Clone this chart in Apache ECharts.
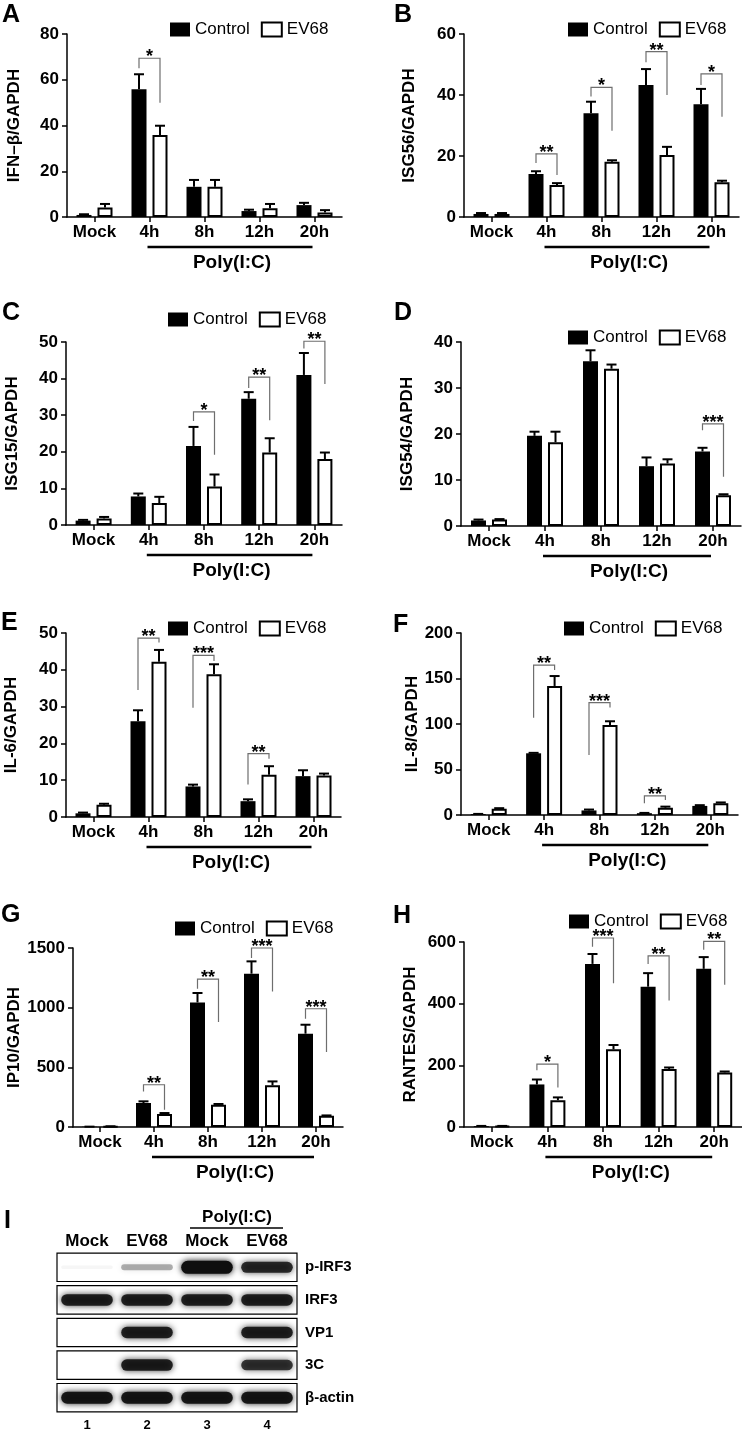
<!DOCTYPE html>
<html>
<head>
<meta charset="utf-8">
<script src="https://cdn.jsdelivr.net/npm/echarts@6/dist/echarts.min.js"></script>
<style>
html,body{margin:0;padding:0;background:#fff;}
#chart{width:742px;height:1432px;}
</style>
</head>
<body>
<div id="chart"></div>
<script>
// ---------------- DATA ----------------
const categories = ['Mock', '4h', '8h', '12h', '20h'];
const seriesNames = ['Control', 'EV68'];
const polyRange = [1, 4];
const polyLabel = 'Poly(I:C)';

// A  IFN-β
const ifnbCtrl = [0.9, 55.8, 13.2, 2.6, 5.2];
const ifnbCtrlErr = [1.2, 62.4, 16.2, 3.2, 6.2];
const ifnbEv = [4.2, 35.8, 13.2, 3.8, 2.0];
const ifnbEvErr = [5.7, 39.9, 16.2, 5.7, 3.0];
const ifnbSig = [[1, 69.4, 65, 50, '*']];

// B  ISG56
const isg56Ctrl = [1.0, 14.1, 34.0, 43.3, 37.0];
const isg56CtrlErr = [1.3, 15.0, 37.8, 48.5, 42.0];
const isg56Ev = [1.0, 10.5, 18.1, 20.3, 11.4];
const isg56EvErr = [1.3, 11.1, 18.6, 23.0, 11.9];
const isg56Sig = [[1, 20.7, 17.7, 13.8, '**'], [2, 42.5, 39.5, 28.3, '*'], [3, 54.2, 50.7, 40.0, '**'], [4, 46.9, 43.3, 32.9, '*']];

// C  ISG15
const isg15Ctrl = [1.2, 7.8, 21.6, 34.5, 41.0];
const isg15CtrlErr = [1.4, 8.6, 26.8, 36.3, 47.0];
const isg15Ev = [1.8, 6.0, 10.5, 19.8, 18.0];
const isg15EvErr = [2.2, 7.7, 13.8, 23.7, 19.8];
const isg15Sig = [[2, 30.9, 28.4, 19.2, '*'], [3, 40.4, 37.4, 28.6, '**'], [4, 50.2, 48.2, 38.5, '**']];

// D  ISG54
const isg54Ctrl = [1.2, 19.6, 35.8, 13.0, 16.2];
const isg54CtrlErr = [1.4, 20.5, 38.2, 14.9, 17.0];
const isg54Ev = [1.4, 18.2, 34.2, 13.6, 6.7];
const isg54EvErr = [1.5, 20.5, 35.1, 14.5, 6.9];
const isg54Sig = [[4, 22.2, 20.8, 10.7, '***']];

// E  IL-6
const il6Ctrl = [1.0, 26.0, 8.3, 4.3, 11.1];
const il6CtrlErr = [1.2, 29.0, 8.8, 4.8, 12.7];
const il6Ev = [3.3, 42.2, 38.8, 11.5, 11.3];
const il6EvErr = [3.6, 45.4, 41.5, 13.8, 11.8];
const il6Sig = [[1, 48.6, 34.5, 47.4, '**'], [2, 43.9, 29.7, 42.4, '***'], [3, 17.2, 8.8, 15.8, '**']];

// F  IL-8
const il8Ctrl = [1.0, 67.8, 5.0, 2.0, 10.0];
const il8CtrlErr = [1.2, 68.3, 6.0, 2.3, 10.8];
const il8Ev = [7.0, 141.8, 98.9, 8.0, 13.0];
const il8EvErr = [7.5, 152.7, 103.0, 9.2, 13.8];
const il8Sig = [[1, 164.8, 107, 159.3, '**'], [2, 123.4, 66, 118, '***'], [3, 21, 13, 16.5, '**']];

// G  IP10
const ip10Ctrl = [2, 201, 1044, 1285, 782];
const ip10CtrlErr = [3, 215, 1123, 1388, 857];
const ip10Ev = [5, 109, 187, 349, 95];
const ip10EvErr = [6, 117, 193, 382, 97];
const ip10Sig = [[1, 354, 298, 145, '**'], [2, 1240, 1159, 880, '**'], [3, 1500, 1416, 1136, '***'], [4, 991, 907, 628, '***']];

// H  RANTES
const rantesCtrl = [3, 138, 529, 455, 513];
const rantesCtrlErr = [3.5, 154, 561, 499, 551];
const rantesEv = [3, 87, 252, 188, 177];
const rantesEvErr = [3.5, 96, 266, 193, 180];
const rantesSig = [[1, 204, 184, 128, '*'], [2, 613, 585, 466, '***'], [3, 555, 529, 410, '**'], [4, 602, 575, 461, '**']];

// y-axis ranges
const yMaxes = [80, 60, 50, 40, 50, 200, 1500, 600];
const yIntervals = [20, 20, 10, 10, 10, 50, 500, 200];
const yNames = ['IFN–β/GAPDH', 'ISG56/GAPDH', 'ISG15/GAPDH', 'ISG54/GAPDH', 'IL-6/GAPDH', 'IL-8/GAPDH', 'IP10/GAPDH', 'RANTES/GAPDH'];
const panelLetters = ['A', 'B', 'C', 'D', 'E', 'F', 'G', 'H', 'I'];

// I  Western blot
const lanes = ['Mock', 'EV68', 'Mock', 'EV68'];
const laneNumbers = ['1', '2', '3', '4'];
const blotRows = ['p-IRF3', 'IRF3', 'VP1', '3C', 'β-actin'];
const pIRF3Band = [0.04, 0.3, 1.0, 0.8];
const irf3Band = [0.85, 0.85, 0.85, 0.85];
const vp1Band = [0, 0.85, 0, 0.85];
const c3Band = [0, 0.85, 0, 0.75];
const actinBand = [0.9, 0.9, 0.9, 0.9];
const blotPolyLanes = [2, 3];

// ---------------- STYLE / LAYOUT ----------------
const FONT = '"Liberation Sans", Arial, Helvetica, sans-serif';
const BAR_W = 15, BAR_GAP = 6;
const layouts = [
  {left: 67, top: 34, width: 275, height: 183, legend: [165, 16], letter: [2, 3], nameGap: 44},
  {left: 464, top: 34, width: 275, height: 183, legend: [563, 16], letter: [394, 3], nameGap: 46},
  {left: 66, top: 342, width: 276, height: 183, legend: [163, 306], letter: [2, 301], nameGap: 45},
  {left: 461, top: 342, width: 280, height: 184, legend: [563, 324], letter: [394, 301], nameGap: 45},
  {left: 66, top: 633, width: 275, height: 184, legend: [163, 615], letter: [1, 611], nameGap: 46},
  {left: 461, top: 633, width: 277, height: 182, legend: [559, 615], letter: [393, 613], nameGap: 40},
  {left: 73, top: 948, width: 270, height: 179, legend: [170, 915], letter: [1, 903], nameGap: 46},
  {left: 464, top: 942, width: 278, height: 185, legend: [564, 908], letter: [393, 904], nameGap: 45}
];
const blotLayout = {left: 57, top: 1251, width: 240, height: 166, letter: [4, 1209]};

const panelData = [
  [ifnbCtrl, ifnbCtrlErr, ifnbEv, ifnbEvErr, ifnbSig],
  [isg56Ctrl, isg56CtrlErr, isg56Ev, isg56EvErr, isg56Sig],
  [isg15Ctrl, isg15CtrlErr, isg15Ev, isg15EvErr, isg15Sig],
  [isg54Ctrl, isg54CtrlErr, isg54Ev, isg54EvErr, isg54Sig],
  [il6Ctrl, il6CtrlErr, il6Ev, il6EvErr, il6Sig],
  [il8Ctrl, il8CtrlErr, il8Ev, il8EvErr, il8Sig],
  [ip10Ctrl, ip10CtrlErr, ip10Ev, ip10EvErr, ip10Sig],
  [rantesCtrl, rantesCtrlErr, rantesEv, rantesEvErr, rantesSig]
];

function errRender(side) {
  return function (params, api) {
    const cat = api.value(0);
    const base = api.coord([cat, api.value(1)]);
    const top = api.coord([cat, api.value(2)]);
    const x = base[0] + side * (BAR_W + BAR_GAP) / 2;
    return {type: 'group', children: [
      {type: 'line', shape: {x1: x, y1: base[1], x2: x, y2: top[1]}, style: {stroke: '#000', lineWidth: 2}},
      {type: 'line', shape: {x1: x - 5, y1: top[1], x2: x + 5, y2: top[1]}, style: {stroke: '#000', lineWidth: 2}}
    ]};
  };
}
function sigRender(sig) {
  return function (params, api) {
    const s = sig[params.dataIndex];
    const c = api.coord([s[0], s[1]]);
    const half = (BAR_W + BAR_GAP) / 2;
    const xL = c[0] - half, xR = c[0] + half, yT = c[1];
    const yL = api.coord([s[0], s[2]])[1];
    const yR = api.coord([s[0], s[3]])[1];
    return {type: 'group', children: [
      {type: 'polyline', shape: {points: [[xL, yL], [xL, yT], [xR, yT], [xR, yR]]}, style: {stroke: '#6e6e6e', lineWidth: 1.2, fill: null}},
      {type: 'text', style: {text: s[4], x: (xL + xR) / 2, y: yT - 1, align: 'center', verticalAlign: 'middle', font: 'bold 18px ' + FONT, fill: '#000'}}
    ]};
  };
}
function polyRender(params, api) {
  const a = api.coord([api.value(0), 0]);
  const b = api.coord([api.value(1), 0]);
  const y0 = a[1];
  return {type: 'group', children: [
    {type: 'line', shape: {x1: a[0] - 2, y1: y0 + 30, x2: b[0] - 2, y2: y0 + 30}, style: {stroke: '#000', lineWidth: 2.5}},
    {type: 'text', style: {text: polyLabel, x: (a[0] + b[0]) / 2, y: y0 + 46, align: 'center', verticalAlign: 'middle', font: 'bold 19px ' + FONT, fill: '#000'}}
  ]};
}

const grids = [], xAxes = [], yAxes = [], series = [], legends = [], titles = [];
const axisLineStyle = {show: true, lineStyle: {color: '#000', width: 1.5}};

layouts.forEach((L, i) => {
  const [ctrl, ctrlErr, ev, evErr, sig] = panelData[i];
  grids.push({left: L.left, top: L.top, width: L.width, height: L.height, containLabel: false});
  xAxes.push({
    type: 'category', gridIndex: i, data: categories,
    axisLine: axisLineStyle,
    axisTick: {show: true, alignWithLabel: true, length: 5, lineStyle: {color: '#000', width: 1.5}},
    axisLabel: {color: '#000', fontWeight: 'bold', fontSize: 17, fontFamily: FONT, margin: 7, interval: 0}
  });
  yAxes.push({
    type: 'value', gridIndex: i, min: 0, max: yMaxes[i], interval: yIntervals[i],
    name: yNames[i], nameLocation: 'middle', nameGap: L.nameGap,
    nameTextStyle: {color: '#000', fontWeight: 'bold', fontSize: 17, fontFamily: FONT},
    axisLine: axisLineStyle,
    axisTick: {show: true, length: 5, lineStyle: {color: '#000', width: 1.5}},
    axisLabel: {color: '#000', fontWeight: 'bold', fontSize: 17, fontFamily: FONT, margin: 8,
      formatter: v => String(v)},
    splitLine: {show: false}
  });
  series.push({
    type: 'bar', name: seriesNames[0], xAxisIndex: i, yAxisIndex: i, data: ctrl,
    barWidth: BAR_W, barGap: (BAR_GAP / BAR_W * 100) + '%',
    itemStyle: {color: '#000'}, silent: true, z: 2
  });
  series.push({
    type: 'bar', name: seriesNames[1], xAxisIndex: i, yAxisIndex: i, data: ev,
    barWidth: BAR_W, barGap: (BAR_GAP / BAR_W * 100) + '%',
    itemStyle: {color: '#fff', borderColor: '#000', borderWidth: 2}, silent: true, z: 2
  });
  series.push({
    type: 'custom', xAxisIndex: i, yAxisIndex: i, clip: false, silent: true, z: 3,
    data: categories.map((c, k) => [k, ctrl[k], ctrlErr[k]]), renderItem: errRender(-1)
  });
  series.push({
    type: 'custom', xAxisIndex: i, yAxisIndex: i, clip: false, silent: true, z: 3,
    data: categories.map((c, k) => [k, ev[k], evErr[k]]), renderItem: errRender(1)
  });
  series.push({
    type: 'custom', xAxisIndex: i, yAxisIndex: i, clip: false, silent: true, z: 4,
    data: sig.map(s => [s[0], s[1], s[2], s[3]]), renderItem: sigRender(sig)
  });
  series.push({
    type: 'custom', xAxisIndex: i, yAxisIndex: i, clip: false, silent: true, z: 4,
    data: [polyRange], renderItem: polyRender
  });
  legends.push({
    left: L.legend[0], top: L.legend[1], orient: 'horizontal', itemWidth: 20, itemHeight: 14, itemGap: 11,
    selectedMode: false,
    textStyle: {color: '#000', fontSize: 17, fontFamily: FONT},
    data: [
      {name: seriesNames[0], icon: 'rect', itemStyle: {color: '#000', borderWidth: 0}},
      {name: seriesNames[1], icon: 'rect', itemStyle: {color: '#fff', borderColor: '#000', borderWidth: 2}}
    ]
  });
  titles.push({text: panelLetters[i], left: L.letter[0], top: L.letter[1], padding: 0,
    textStyle: {color: '#000', fontWeight: 'bold', fontSize: 25, fontFamily: FONT}});
});

// ---------------- Western blot (panel I) ----------------
const bi = layouts.length;
const bandRows = [pIRF3Band, irf3Band, vp1Band, c3Band, actinBand];
grids.push({left: blotLayout.left, top: blotLayout.top, width: blotLayout.width, height: blotLayout.height});
xAxes.push({
  type: 'category', gridIndex: bi, data: lanes, position: 'top',
  axisLine: {show: false}, axisTick: {show: false},
  axisLabel: {color: '#000', fontWeight: 'bold', fontSize: 17, fontFamily: FONT, margin: 1, interval: 0}
});
xAxes.push({
  type: 'category', gridIndex: bi, data: laneNumbers, position: 'bottom',
  axisLine: {show: false}, axisTick: {show: false},
  axisLabel: {color: '#000', fontWeight: 'bold', fontSize: 13, fontFamily: FONT, margin: 5, interval: 0}
});
yAxes.push({
  type: 'category', gridIndex: bi, data: blotRows, inverse: true, position: 'right',
  axisLine: {show: false}, axisTick: {show: false}, splitLine: {show: false},
  axisLabel: {color: '#000', fontWeight: 'bold', fontSize: 15, fontFamily: FONT, margin: 8, interval: 0}
});
series.push({
  type: 'custom', xAxisIndex: bi, yAxisIndex: bi, silent: true, clip: false, z: 1,
  data: blotRows.map((r, k) => [0, k]),
  renderItem: function (params, api) {
    const sz = api.size([1, 1]);
    const c = api.coord([0, api.value(1)]);
    const h = sz[1] * 0.87;
    return {type: 'rect', shape: {x: c[0] - sz[0] / 2, y: c[1] - h / 2, width: sz[0] * lanes.length, height: h},
      style: {fill: '#fff', stroke: '#000', lineWidth: 1.2}};
  }
});
const bandData = [];
bandRows.forEach((row, r) => row.forEach((v, l) => bandData.push([l, r, v])));
series.push({
  type: 'custom', xAxisIndex: bi, yAxisIndex: bi, silent: true, clip: false, z: 2,
  data: bandData,
  renderItem: function (params, api) {
    const v = api.value(2);
    if (!(v > 0)) return null;
    const sz = api.size([1, 1]);
    const c = api.coord([api.value(0), api.value(1)]);
    const w = sz[0] * 0.86, h = 3 + 10 * v;
    const col = 'rgba(15,15,15,' + Math.min(1, v * 1.05).toFixed(2) + ')';
    return {type: 'rect', shape: {x: c[0] - w / 2, y: c[1] - h / 2, width: w, height: h, r: h / 2},
      style: {fill: col, shadowBlur: 6, shadowColor: col}};
  }
});
series.push({
  type: 'custom', xAxisIndex: bi, yAxisIndex: bi, silent: true, clip: false, z: 3,
  data: [blotPolyLanes],
  renderItem: function (params, api) {
    const sz = api.size([1, 1]);
    const a = api.coord([api.value(0), 0]);
    const b = api.coord([api.value(1), 0]);
    const y0 = a[1] - sz[1] / 2;
    return {type: 'group', children: [
      {type: 'line', shape: {x1: a[0] - 17, y1: y0 - 23, x2: b[0] + 16, y2: y0 - 23}, style: {stroke: '#000', lineWidth: 1.5}},
      {type: 'text', style: {text: polyLabel, x: (a[0] + b[0]) / 2, y: y0 - 34, align: 'center', verticalAlign: 'middle', font: 'bold 17px ' + FONT, fill: '#000'}}
    ]};
  }
});
titles.push({text: panelLetters[bi], left: blotLayout.letter[0], top: blotLayout.letter[1], padding: 0,
  textStyle: {color: '#000', fontWeight: 'bold', fontSize: 25, fontFamily: FONT}});

const chart = echarts.init(document.getElementById('chart'), null, {renderer: 'canvas'});
chart.setOption({
  backgroundColor: '#fff',
  animation: false,
  title: titles,
  legend: legends,
  grid: grids,
  xAxis: xAxes,
  yAxis: yAxes,
  series: series
});
</script>
</body>
</html>
